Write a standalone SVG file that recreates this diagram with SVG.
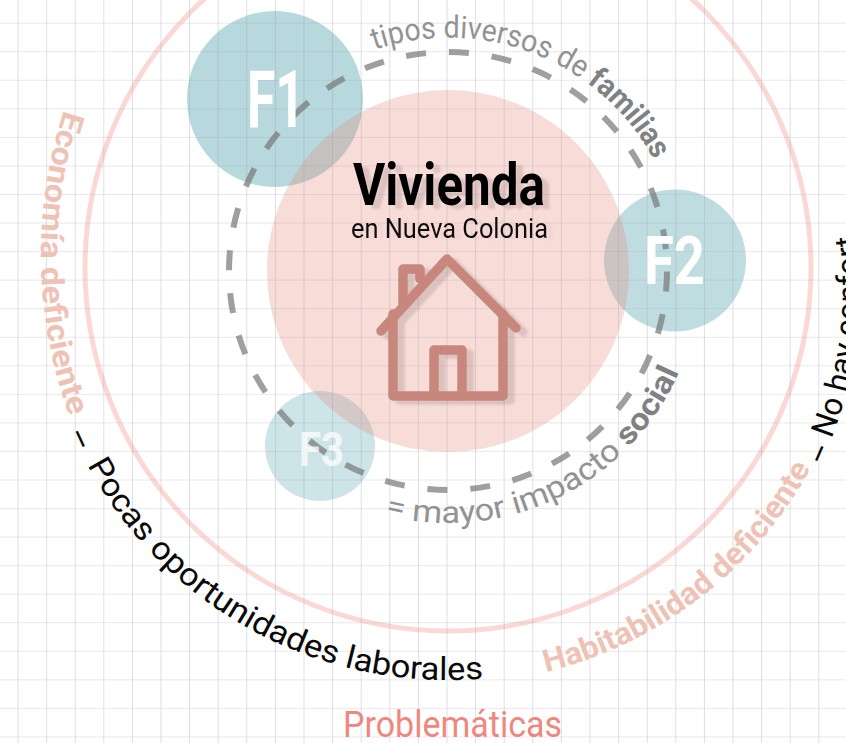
<svg xmlns="http://www.w3.org/2000/svg" width="846" height="743" viewBox="0 0 846 743">
<style>
text{font-family:"Roboto","Liberation Sans",sans-serif}
.fam{fill:#fff;font-weight:700}
.grey{fill:#929394;font-size:31px}
.grey .b{font-weight:700;fill:#808183}
.pink{fill:#efc2b6;font-size:31px;font-weight:700}
.blk{fill:#0a0a0a;font-size:32px}
.house{fill:none;stroke:#c7877b;stroke-width:9.5;stroke-linecap:round;stroke-linejoin:round}
</style>
<defs>
<pattern id="grid" x="17.5" y="22.7" width="28.6" height="28.55" patternUnits="userSpaceOnUse">
<path d="M0.5 0V28.55" stroke="#9a9ca6" stroke-opacity=".32" fill="none"/>
<path d="M0 0.5H28.6" stroke="#9a9ca6" stroke-opacity=".22" fill="none"/>
</pattern>
<filter id="sh" x="-10%" y="-10%" width="125%" height="125%"><feDropShadow dx="7" dy="4" stdDeviation="1" flood-color="#6e5a57" flood-opacity=".2"/></filter>
<filter id="sh2" x="-10%" y="-10%" width="125%" height="125%"><feDropShadow dx="6" dy="1" stdDeviation="1" flood-color="#6e5a57" flood-opacity=".08"/></filter>
<path id="pTop" d="M374.5 49.9A233 233 0 0 1 654 160"/>
<path id="pBot" d="M384.9 514.9A252 252 0 0 0 680 370"/>
<path id="pEco" d="M64 110A466 466 0 0 0 71 420"/>
<path id="pPoc" d="M71 431A409 409 0 0 0 485 678.3"/>
<path id="pHab" d="M546 672A413 413 0 0 0 812 466"/>
<path id="pNo" d="M820 465A415 415 0 0 0 856 233"/>
</defs>
<rect width="846" height="743" fill="#fff"/>
<circle id="ring" cx="448" cy="268" r="363" fill="none" stroke="#fcd8d5" stroke-width="5"/>
<g id="F1"><circle cx="275" cy="99" r="88" fill="#b7d8dc"/></g>
<g id="F2"><circle cx="675" cy="260.500" r="71" fill="#bfdde1"/></g>
<g id="F3"><circle cx="320" cy="446" r="55" fill="#cde4e8"/></g>
<g id="vivienda"><circle cx="448" cy="271" r="181" fill="#e88a7d" fill-opacity=".3"/></g>
<rect width="846" height="743" fill="url(#grid)"/>
<g id="house" class="house" filter="url(#sh)">
<path d="M381 331L447 259L516 328"/>
<path d="M393 314V396H503V314"/>
<path d="M434 396V350H462V396"/>
<path d="M403 303V269H420V279"/>
</g>
<g id="labels-center">
<text x="353" y="205" font-size="60" font-weight="700" fill="#050505" textLength="192" lengthAdjust="spacingAndGlyphs" filter="url(#sh)">Vivienda</text>
<text x="351" y="238" font-size="28" fill="#111" textLength="197" lengthAdjust="spacingAndGlyphs" filter="url(#sh2)">en Nueva Colonia</text>
</g>
<g id="connectors"><circle cx="448" cy="271" r="219" fill="none" stroke="#7a7a7a" stroke-opacity=".72" stroke-width="6" stroke-dasharray="20 23" stroke-dashoffset="-0.5"/></g>
<text class="fam" x="247" y="127" font-size="80" textLength="58" lengthAdjust="spacingAndGlyphs">F1</text>
<text class="fam" x="644" y="284" font-size="66" textLength="61" lengthAdjust="spacingAndGlyphs">F2</text>
<text class="fam" x="299" y="466" font-size="48" textLength="45" lengthAdjust="spacingAndGlyphs" fill-opacity=".75">F3</text>
<g id="arc-labels">
<text class="grey"><textPath href="#pTop" textLength="326" lengthAdjust="spacingAndGlyphs">tipos diversos de <tspan class="b">familias</tspan></textPath></text>
<text class="grey"><textPath href="#pBot" textLength="356" lengthAdjust="spacingAndGlyphs">= mayor impacto <tspan class="b">social</tspan></textPath></text>
<text class="pink"><textPath href="#pEco" textLength="312" lengthAdjust="spacingAndGlyphs">Economía deficiente</textPath></text>
<text class="blk"><textPath href="#pPoc" textLength="514" lengthAdjust="spacingAndGlyphs"><tspan dy="6">–</tspan><tspan dy="-6" dx="6"> Pocas oportunidades laborales</tspan></textPath></text>
<text class="pink"><textPath href="#pHab" textLength="344" lengthAdjust="spacingAndGlyphs">Habitabilidad deficiente</textPath></text>
<text class="blk"><textPath href="#pNo" textLength="236" lengthAdjust="spacingAndGlyphs"><tspan dy="6">–</tspan><tspan dy="-6"> No hay confort</tspan></textPath></text>
</g>
<text x="343" y="737" font-size="36" fill="#f0877e" textLength="219" lengthAdjust="spacingAndGlyphs">Problemáticas</text>
</svg>
